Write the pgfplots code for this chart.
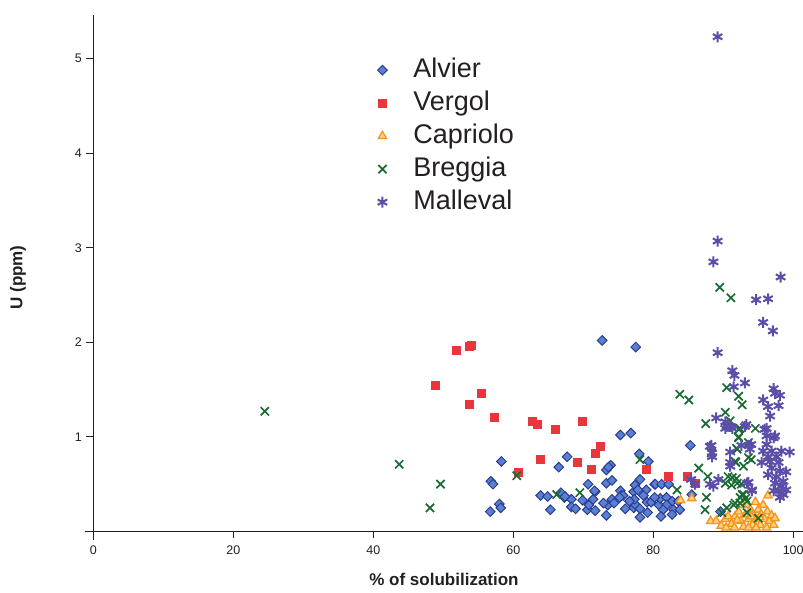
\documentclass[border=0pt]{standalone}
\usepackage{pgfplots}
\pgfplotsset{compat=1.18}
\usepackage{fontspec}
\setmainfont{Liberation Sans}

\definecolor{axisgray}{HTML}{231F20}
\definecolor{alvierfill}{HTML}{5A80D2}
\definecolor{alvieredge}{HTML}{2B3C92}
\definecolor{vergolred}{HTML}{E8363C}
\definecolor{capedge}{HTML}{F7941D}
\definecolor{capfill}{HTML}{FDD27F}
\definecolor{breggiagreen}{HTML}{1B6B34}
\definecolor{mallevalpurple}{HTML}{5B4EA8}

\begin{document}
\begin{tikzpicture}
\useasboundingbox (-85pt,-53pt) rectangle (718pt,540pt);
\begin{axis}[
  scale only axis,
  width=718pt, height=525pt,
  xmin=-1.2, xmax=101.4,
  ymin=-0.09, ymax=5.46,
  axis lines=middle,
  axis line style={-, line width=1.1pt, color=axisgray},
  tick style={line width=1.1pt, color=axisgray},
  tick align=outside,
  major tick length=7pt,
  hide obscured x ticks=false,
  hide obscured y ticks=false,
  xtick={0,20,40,60,80,100},
  ytick={1,2,3,4,5},
  minor tick num=0,
  /pgf/number format/assume math mode=true,
  tick label style={font=\fontsize{12.5}{15}\selectfont, text=axisgray},
  xticklabel style={yshift=-4pt},
  yticklabel style={xshift=-1pt},
  xlabel={\% of solubilization},
  ylabel={U (ppm)},
  xlabel style={at={(axis description cs:0.5,0)}, anchor=north, yshift=-30pt,
                font=\fontsize{17}{20}\selectfont\bfseries, text=axisgray},
  ylabel style={at={(axis description cs:-0.0933,0.5)}, anchor=center, rotate=90,
                font=\fontsize{17}{20}\selectfont\bfseries, text=axisgray},
  clip=false,
  legend cell align=left,
  legend style={at={(axis description cs:0.4073,0.922)}, anchor=north west,
                draw=none, fill=none, inner sep=0pt,
                font=\fontsize{27}{32}\selectfont, text=axisgray,
                row sep=5pt, column sep=23pt,
                nodes={inner ysep=1pt, inner xsep=3pt, text height=20pt, text depth=6pt}},
]

% Alvier
\addplot[only marks, mark=square*, mark size=3.4pt,
  mark options={rotate=45, fill=alvierfill, draw=alvieredge, line width=1pt}]
  table {
x y
72.7 2.02
77.5 1.95
75.3 1.02
76.8 1.04
58.3 0.74
67.7 0.79
66.5 0.68
56.8 0.53
57.1 0.50
78.0 0.82
79.3 0.74
73.3 0.65
73.9 0.70
73.6 0.68
73.3 0.51
74.1 0.54
70.7 0.50
63.9 0.38
64.9 0.37
66.8 0.41
67.3 0.36
68.3 0.34
69.9 0.33
71.7 0.42
71.4 0.34
75.3 0.43
75.4 0.38
77.2 0.42
77.4 0.49
76.9 0.30
77.2 0.25
76.0 0.24
73.5 0.28
74.1 0.34
74.4 0.30
58.0 0.29
58.2 0.25
56.7 0.21
65.3 0.23
68.3 0.26
68.9 0.24
70.6 0.23
71.7 0.22
73.3 0.17
77.5 0.28
78.1 0.55
80.2 0.50
79.0 0.44
77.8 0.44
71.6 0.43
75.7 0.38
77.3 0.34
67.4 0.37
79.1 0.31
79.7 0.31
78.1 0.24
79.2 0.20
78.1 0.15
80.8 0.28
85.3 0.91
80.3 0.50
81.2 0.50
82.2 0.50
81.0 0.35
81.9 0.36
82.7 0.32
81.9 0.28
82.9 0.23
81.4 0.23
83.8 0.23
81.1 0.16
82.7 0.18
85.5 0.39
83.6 0.32
89.6 0.21
75.2 0.36
76.6 0.32
72.9 0.30
70.8 0.28
80.2 0.36
78.6 0.38
};
\addlegendentry{Alvier}

% Vergol
\addplot[only marks, mark=square*, mark size=4pt,
  mark options={fill=vergolred, draw=vergolred, line width=0pt}]
  table {
x y
48.9 1.54
51.9 1.91
54.0 1.97
53.8 1.96
53.7 1.34
55.4 1.46
57.3 1.21
60.7 0.62
62.8 1.16
63.4 1.13
63.9 0.76
66.0 1.08
69.9 1.16
69.2 0.73
72.5 0.90
71.7 0.82
71.2 0.66
79.1 0.65
82.2 0.58
84.9 0.58
86.0 0.51
};
\addlegendentry{Vergol}

% Capriolo
\addplot[only marks, mark=triangle*, mark size=4.8pt,
  mark options={fill=capfill, draw=capedge, line width=1.3pt}]
  table {
x y
83.9 0.33
85.5 0.35
96.4 0.38
88.2 0.11
89.0 0.11
89.7 0.06
90.3 0.13
90.7 0.16
91.2 0.08
91.7 0.16
92.2 0.21
92.5 0.11
92.9 0.05
93.2 0.18
93.3 0.28
93.6 0.13
93.9 0.23
94.2 0.07
94.3 0.18
94.6 0.31
94.7 0.13
95.0 0.23
95.3 0.07
95.4 0.18
95.7 0.28
95.9 0.13
96.2 0.04
96.3 0.21
96.6 0.11
96.9 0.17
97.2 0.07
97.4 0.14
92.7 0.28
91.6 0.04
90.4 0.04
92.0 0.12
93.6 0.04
94.7 0.04
95.2 0.15
94.0 0.16
};
\addlegendentry{Capriolo}

% Breggia
\addplot[only marks, mark=x, mark size=5.8pt,
  mark options={draw=breggiagreen, line width=1.7pt}]
  table {
x y
24.5 1.27
43.7 0.71
49.6 0.50
48.1 0.25
60.5 0.59
66.2 0.39
69.5 0.41
78.1 0.76
83.8 1.45
85.1 1.39
90.5 1.52
92.2 1.43
92.7 1.34
90.3 1.26
91.0 1.17
87.5 1.14
92.2 1.08
94.6 1.09
92.2 0.99
91.9 0.88
93.6 0.78
88.3 0.83
91.7 0.74
92.9 0.69
86.5 0.67
87.8 0.58
90.7 0.58
91.9 0.56
90.3 0.51
91.2 0.49
92.6 0.50
83.4 0.44
87.6 0.36
87.4 0.23
91.7 0.30
92.4 0.36
92.9 0.39
93.4 0.32
91.5 0.28
89.8 0.20
90.5 0.25
93.4 0.20
95.0 0.14
89.5 2.58
91.1 2.47
92.4 1.09
92.2 1.00
92.0 0.87
93.6 0.94
94.0 0.76
91.8 0.73
91.3 0.57
92.0 0.51
92.7 0.39
93.2 0.35
92.4 0.30
};
\addlegendentry{Breggia}

% Malleval
\addplot[only marks, mark=asterisk, mark size=5.5pt,
  mark options={draw=mallevalpurple, line width=2pt}]
  table {
x y
89.2 5.23
89.2 3.07
88.6 2.85
98.2 2.69
94.7 2.45
96.4 2.46
95.7 2.21
97.1 2.12
89.2 1.89
91.3 1.70
91.6 1.65
93.1 1.57
91.5 1.53
97.2 1.51
97.4 1.46
98.1 1.44
95.7 1.39
96.4 1.32
97.9 1.33
96.7 1.22
89.0 1.20
93.1 1.11
90.3 1.09
91.3 1.09
95.9 1.08
96.2 1.01
97.2 0.99
92.6 0.91
94.0 0.92
88.3 0.91
88.4 0.79
91.0 0.84
93.8 0.87
91.0 0.69
85.4 0.55
86.0 0.50
89.3 0.55
88.1 0.50
93.4 0.51
94.1 0.43
95.7 0.85
96.9 0.85
98.3 0.85
99.5 0.84
96.4 0.79
97.6 0.79
95.5 0.73
96.7 0.74
97.9 0.73
96.9 0.67
98.1 0.64
99.0 0.63
96.4 0.60
97.6 0.58
98.6 0.53
97.4 0.51
98.3 0.48
97.9 0.43
98.6 0.39
98.1 0.36
99.0 0.44
93.6 0.52
94.1 0.44
97.2 0.43
93.3 1.13
91.1 1.11
96.2 1.09
97.4 1.01
93.6 0.91
96.2 0.92
88.1 0.90
88.4 0.83
91.0 0.73
88.6 0.48
90.3 1.16
90.5 1.11
};
\addlegendentry{Malleval}

\end{axis}
\end{tikzpicture}
\end{document}
